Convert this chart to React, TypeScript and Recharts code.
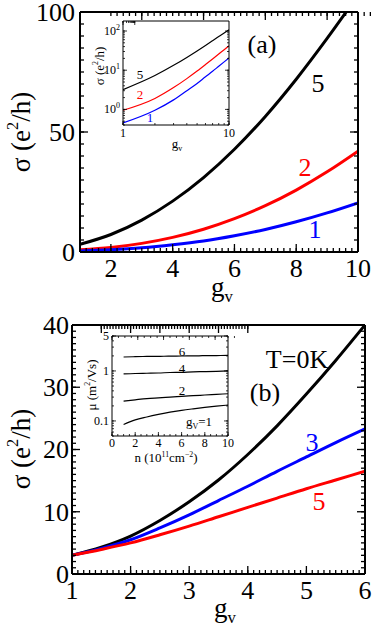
import React from 'react';
import { Line, LineChart, XAxis, YAxis } from 'recharts';

const SERIF = '"Liberation Serif", "Times New Roman", serif';

// panel (a): sigma (e^2/h) vs g_v, curves labelled 5, 2, 1
const gvA = [1, 2, 3, 4, 5, 6, 7, 8, 9, 10];
const sigmaA5 = [3.2, 7.3, 13.3, 21.2, 31, 42.8, 56.5, 72, 89, 107];
const sigmaA2 = [0.95, 1.9, 3.6, 6.1, 9.5, 13.9, 19.3, 25.8, 33.4, 42];
const sigmaA1 = [0.45, 0.95, 1.75, 3.0, 4.6, 6.8, 9.4, 12.6, 16.3, 20.5];

// panel (b): sigma vs g_v at T=0K
const gvB = [1, 1.5, 2, 2.5, 3, 3.5, 4, 4.5, 5, 5.5, 6];
const sigmaB0 = [3, 4.3, 6.1, 8.6, 11.6, 15.1, 19.2, 23.8, 28.9, 34.3, 40];
const sigmaB3 = [3, 4.1, 5.5, 7.4, 9.5, 11.8, 14.1, 16.5, 18.8, 21.1, 23.3];
const sigmaB5 = [3, 3.95, 5.0, 6.3, 7.7, 9.2, 10.7, 12.2, 13.7, 15.1, 16.5];

// panel (b) inset: mobility vs density n (10^11 cm^-2)
const nB = [1, 2, 3, 4, 5, 6, 7, 8, 9, 10];
const mu6 = [1.9, 1.93, 1.95, 1.96, 1.98, 1.99, 2.0, 2.02, 2.03, 2.05];
const mu4 = [0.87, 0.89, 0.9, 0.91, 0.93, 0.94, 0.96, 0.97, 0.985, 1.0];
const mu2 = [0.25, 0.265, 0.28, 0.29, 0.3, 0.31, 0.32, 0.33, 0.34, 0.35];
const mu1 = [0.085, 0.105, 0.12, 0.135, 0.15, 0.163, 0.175, 0.187, 0.198, 0.208];

// labelled ticks
const majorAX = [2, 4, 6, 8, 10];
const majorAY = [0, 50, 100];
const majorBX = [1, 2, 3, 4, 5, 6];
const majorBY = [0, 10, 20, 30, 40];
const majorInsetAX = [1, 10];
const majorInsetAY = [1, 10, 100];
const majorInsetBX = [0, 2, 4, 6, 8, 10];
const majorInsetBY = [0.1, 1, 5];

const rowsA = gvA.map((g, i) => ({ gv: g, s5: sigmaA5[i], s2: sigmaA2[i], s1: sigmaA1[i] }));
// inset (a) puts g_v on a log axis: the library's linear scale over log10(g_v)
const rowsInsetA = gvA.map((g, i) => ({ lgv: Math.log10(g), s5: sigmaA5[i], s2: sigmaA2[i], s1: sigmaA1[i] }));
const rowsB = gvB.map((g, i) => ({ gv: g, s0: sigmaB0[i], s3: sigmaB3[i], s5: sigmaB5[i] }));
const rowsMu = nB.map((n, i) => ({ n, m6: mu6[i], m4: mu4[i], m2: mu2[i], m1: mu1[i] }));

function steps(from: number, to: number, step: number) {
  const out: number[] = [];
  for (let i = 0; from + i * step <= to + 1e-9; i++) out.push(+(from + i * step).toFixed(6));
  return out;
}

function logSteps(lo: number, hi: number) {
  const out: number[] = [];
  for (let e = -3; e <= 3; e++) {
    for (let m = 1; m <= 9; m++) {
      const v = +(m * Math.pow(10, e)).toPrecision(6);
      if (v >= lo * 0.999 && v <= hi * 1.001) out.push(v);
    }
  }
  return out;
}

type Side = 'bottom' | 'top' | 'left' | 'right';

interface TickStyle {
  majors: number[];
  major: number;
  minor: number;
  width: number;
  size?: number;
  gap?: number;
  format?: (v: number) => React.ReactNode;
}

// the library draws every tick inward at minor length (negative tickSize);
// majors get the longer mark and the label here
function makeTick(side: Side, s: TickStyle) {
  return function Tick(props: any) {
    const v = Number(props.payload.value);
    const ax = side === 'left' ? props.x - s.minor : side === 'right' ? props.x + s.minor : props.x;
    const ay = side === 'bottom' ? props.y + s.minor : side === 'top' ? props.y - s.minor : props.y;
    const isMajor = s.majors.some((m) => Math.abs(m - v) <= 1e-6 * Math.max(1, Math.abs(m)));
    if (!isMajor) return <g />;
    const x2 = side === 'left' ? ax + s.major : side === 'right' ? ax - s.major : ax;
    const y2 = side === 'bottom' ? ay - s.major : side === 'top' ? ay + s.major : ay;
    let text: React.ReactNode = null;
    if (s.format && s.size) {
      const common = { fontSize: s.size, fontFamily: SERIF, fill: '#000' };
      if (side === 'bottom') {
        text = (
          <text x={ax} y={ay + (s.gap ?? 0)} textAnchor="middle" {...common}>
            {s.format(v)}
          </text>
        );
      } else if (side === 'left') {
        text = (
          <text x={ax - (s.gap ?? 0)} y={ay + s.size * 0.34} textAnchor="end" {...common}>
            {s.format(v)}
          </text>
        );
      }
    }
    return (
      <g>
        <line x1={ax} y1={ay} x2={x2} y2={y2} stroke="#000" strokeWidth={s.width} />
        {text}
      </g>
    );
  };
}

const plain = (v: number) => String(v);
const fromLog = (v: number) => String(Math.round(Math.pow(10, v)));
const pow10 = (v: number) => (
  <>
    <tspan>10</tspan>
    <tspan dy={-5} fontSize={8}>
      {Math.round(Math.log10(v))}
    </tspan>
  </>
);

function axisProps(ticks: number[], side: Side, s: TickStyle, lineWidth: number) {
  return {
    ticks,
    tick: makeTick(side, s),
    interval: 0 as const,
    tickSize: -s.minor,
    tickMargin: 0,
    tickLine: { stroke: '#000', strokeWidth: s.width },
    axisLine: { stroke: '#000', strokeWidth: lineWidth },
    allowDataOverflow: true,
    type: 'number' as const,
  };
}

function PanelA() {
  const xt = steps(1, 10, 0.2);
  const yt = steps(0, 100, 5);
  const xs: TickStyle = { majors: majorAX, major: 8, minor: 4, width: 1.3, size: 26, gap: 25, format: plain };
  const ys: TickStyle = { majors: majorAY, major: 8, minor: 4, width: 1.3, size: 26, gap: 5, format: plain };
  return (
    <LineChart width={374} height={315} data={rowsA} margin={{ top: 11, right: 15, bottom: 0, left: 0 }}>
      <XAxis dataKey="gv" domain={[1, 10]} height={63} {...axisProps(xt, 'bottom', xs, 2)} />
      <XAxis xAxisId="mirror" orientation="top" domain={[1, 10]} height={1} {...axisProps(xt, 'top', xs, 2)} />
      <YAxis domain={[0, 100]} width={80} {...axisProps(yt, 'left', ys, 2)} />
      <YAxis yAxisId="mirror" orientation="right" domain={[0, 100]} width={1} {...axisProps(yt, 'right', ys, 2)} />
      <Line dataKey="s5" type="monotone" stroke="#000" strokeWidth={3} dot={false} isAnimationActive={false} />
      <Line dataKey="s2" type="monotone" stroke="#ff0000" strokeWidth={3} dot={false} isAnimationActive={false} />
      <Line dataKey="s1" type="monotone" stroke="#0000ff" strokeWidth={3} dot={false} isAnimationActive={false} />
    </LineChart>
  );
}

function InsetA() {
  const xt = logSteps(1, 10).map((v) => +Math.log10(v).toFixed(6));
  const yt = logSteps(0.4, 180);
  const xs: TickStyle = {
    majors: majorInsetAX.map((v) => Math.log10(v)),
    major: 4,
    minor: 2,
    width: 0.8,
    size: 12,
    gap: 12,
    format: fromLog,
  };
  const ys: TickStyle = { majors: majorInsetAY, major: 4, minor: 2, width: 0.8, size: 12, gap: 3, format: pow10 };
  return (
    <LineChart width={150} height={150} data={rowsInsetA} margin={{ top: 10, right: 8, bottom: 0, left: 0 }}>
      <XAxis dataKey="lgv" domain={[0, 1]} height={35} {...axisProps(xt, 'bottom', xs, 1)} />
      <XAxis xAxisId="mirror" orientation="top" domain={[0, 1]} height={1} {...axisProps(xt, 'top', xs, 1)} />
      <YAxis scale="log" domain={[0.4, 180]} width={35} {...axisProps(yt, 'left', ys, 1)} />
      <YAxis yAxisId="mirror" orientation="right" scale="log" domain={[0.4, 180]} width={1} {...axisProps(yt, 'right', ys, 1)} />
      <Line dataKey="s5" type="monotone" stroke="#000" strokeWidth={1.2} dot={false} isAnimationActive={false} />
      <Line dataKey="s2" type="monotone" stroke="#ff0000" strokeWidth={1.2} dot={false} isAnimationActive={false} />
      <Line dataKey="s1" type="monotone" stroke="#0000ff" strokeWidth={1.2} dot={false} isAnimationActive={false} />
    </LineChart>
  );
}

function PanelB() {
  const xt = steps(1, 6, 0.1);
  const yt = steps(0, 40, 1);
  const xs: TickStyle = { majors: majorBX, major: 8, minor: 4, width: 1.3, size: 26, gap: 25, format: plain };
  const ys: TickStyle = { majors: majorBY, major: 8, minor: 4, width: 1.3, size: 26, gap: 3, format: plain };
  return (
    <LineChart width={374} height={315} data={rowsB} margin={{ top: 9, right: 8, bottom: 0, left: 0 }}>
      <XAxis dataKey="gv" domain={[1, 6]} height={56} {...axisProps(xt, 'bottom', xs, 2)} />
      <XAxis xAxisId="mirror" orientation="top" domain={[1, 6]} height={1} {...axisProps(xt, 'top', xs, 2)} />
      <YAxis domain={[0, 40]} width={72} {...axisProps(yt, 'left', ys, 2)} />
      <YAxis yAxisId="mirror" orientation="right" domain={[0, 40]} width={1} {...axisProps(yt, 'right', ys, 2)} />
      <Line dataKey="s0" type="monotone" stroke="#000" strokeWidth={3} dot={false} isAnimationActive={false} />
      <Line dataKey="s3" type="monotone" stroke="#0000ff" strokeWidth={3} dot={false} isAnimationActive={false} />
      <Line dataKey="s5" type="monotone" stroke="#ff0000" strokeWidth={3} dot={false} isAnimationActive={false} />
    </LineChart>
  );
}

function InsetB() {
  const xt = steps(0, 10, 0.5);
  const yt = logSteps(0.05, 5);
  const xs: TickStyle = { majors: majorInsetBX, major: 4, minor: 2, width: 0.8, size: 12, gap: 11, format: plain };
  const ys: TickStyle = { majors: majorInsetBY, major: 4, minor: 2, width: 0.8, size: 12, gap: 3, format: plain };
  return (
    <LineChart width={165} height={140} data={rowsMu} margin={{ top: 10, right: 11, bottom: 0, left: 0 }}>
      <XAxis dataKey="n" domain={[0, 10]} height={29} {...axisProps(xt, 'bottom', xs, 1)} />
      <XAxis xAxisId="mirror" orientation="top" domain={[0, 10]} height={1} {...axisProps(xt, 'top', xs, 1)} />
      <YAxis scale="log" domain={[0.05, 5]} width={37} {...axisProps(yt, 'left', ys, 1)} />
      <YAxis yAxisId="mirror" orientation="right" scale="log" domain={[0.05, 5]} width={1} {...axisProps(yt, 'right', ys, 1)} />
      <Line dataKey="m6" type="monotone" stroke="#000" strokeWidth={1.2} dot={false} isAnimationActive={false} />
      <Line dataKey="m4" type="monotone" stroke="#000" strokeWidth={1.2} dot={false} isAnimationActive={false} />
      <Line dataKey="m2" type="monotone" stroke="#000" strokeWidth={1.2} dot={false} isAnimationActive={false} />
      <Line dataKey="m1" type="monotone" stroke="#000" strokeWidth={1.2} dot={false} isAnimationActive={false} />
    </LineChart>
  );
}

// html labels; y is the text baseline
function Txt({ x, y, size, color = '#000', children }: { x: number; y: number; size: number; color?: string; children: React.ReactNode }) {
  return (
    <div
      style={{
        position: 'absolute',
        left: x,
        top: y - size * 0.84,
        transform: 'translateX(-50%)',
        fontFamily: SERIF,
        fontSize: size,
        lineHeight: 1,
        color,
        whiteSpace: 'nowrap',
        pointerEvents: 'none',
      }}
    >
      {children}
    </div>
  );
}

// rotated axis title centred on (x, y)
function VTitle({ x, y, size, children }: { x: number; y: number; size: number; children: React.ReactNode }) {
  return (
    <div
      style={{
        position: 'absolute',
        left: x,
        top: y,
        transform: 'translate(-50%, -50%) rotate(-90deg)',
        fontFamily: SERIF,
        fontSize: size,
        lineHeight: 1,
        whiteSpace: 'nowrap',
        pointerEvents: 'none',
      }}
    >
      {children}
    </div>
  );
}

const sup: React.CSSProperties = { fontSize: '60%', verticalAlign: '0.7em' };
const sub: React.CSSProperties = { fontSize: '62%', verticalAlign: '-0.35em' };

const Sigma = () => (
  <>
    σ (e<span style={sup}>2</span>/h)
  </>
);
const Gv = () => (
  <>
    g<span style={sub}>v</span>
  </>
);

function Annotations() {
  return (
    <>
      {/* panel (a) */}
      <VTitle x={20} y={132} size={27}>
        <Sigma />
      </VTitle>
      <Txt x={222} y={297} size={27}>
        <Gv />
      </Txt>
      <Txt x={262} y={54} size={26}>(a)</Txt>
      <Txt x={318} y={93} size={26}>5</Txt>
      <Txt x={305} y={177} size={26} color="#ff0000">2</Txt>
      <Txt x={315} y={239} size={26} color="#0000ff">1</Txt>
      <VTitle x={99} y={66} size={13}>
        <Sigma />
      </VTitle>
      <Txt x={177} y={148} size={13}>
        <Gv />
      </Txt>
      <Txt x={140} y={79} size={13}>5</Txt>
      <Txt x={140} y={99} size={13} color="#ff0000">2</Txt>
      <Txt x={150} y={122} size={13} color="#0000ff">1</Txt>

      {/* panel (b) */}
      <VTitle x={20} y={449} size={27}>
        <Sigma />
      </VTitle>
      <Txt x={225} y={618} size={27}>
        <Gv />
      </Txt>
      <Txt x={297} y={369} size={26}>T=0K</Txt>
      <Txt x={265} y={402} size={26}>(b)</Txt>
      <Txt x={312} y={452} size={26} color="#0000ff">3</Txt>
      <Txt x={319} y={511} size={26} color="#ff0000">5</Txt>
      <VTitle x={91} y={385} size={13}>
        μ (m<span style={sup}>2</span>/Vs)
      </VTitle>
      <Txt x={166} y={462} size={13}>
        n (10<span style={sup}>11</span>cm<span style={sup}>−2</span>)
      </Txt>
      <Txt x={182} y={356} size={13}>6</Txt>
      <Txt x={182} y={373} size={13}>4</Txt>
      <Txt x={182} y={395} size={13}>2</Txt>
      <Txt x={199} y={426} size={13}>
        g<span style={sub}>V</span>=1
      </Txt>
    </>
  );
}

export default function App() {
  return (
    <div style={{ position: 'absolute', left: 0, top: 0, width: 374, height: 630, overflow: 'hidden' }}>
      <div style={{ position: 'absolute', left: 0, top: 0 }}>
        <PanelA />
      </div>
      <div style={{ position: 'absolute', left: 0, top: 315 }}>
        <PanelB />
      </div>
      <div style={{ position: 'absolute', left: 88, top: 10 }}>
        <InsetA />
      </div>
      <div style={{ position: 'absolute', left: 75, top: 325 }}>
        <InsetB />
      </div>
      <Annotations />
    </div>
  );
}
